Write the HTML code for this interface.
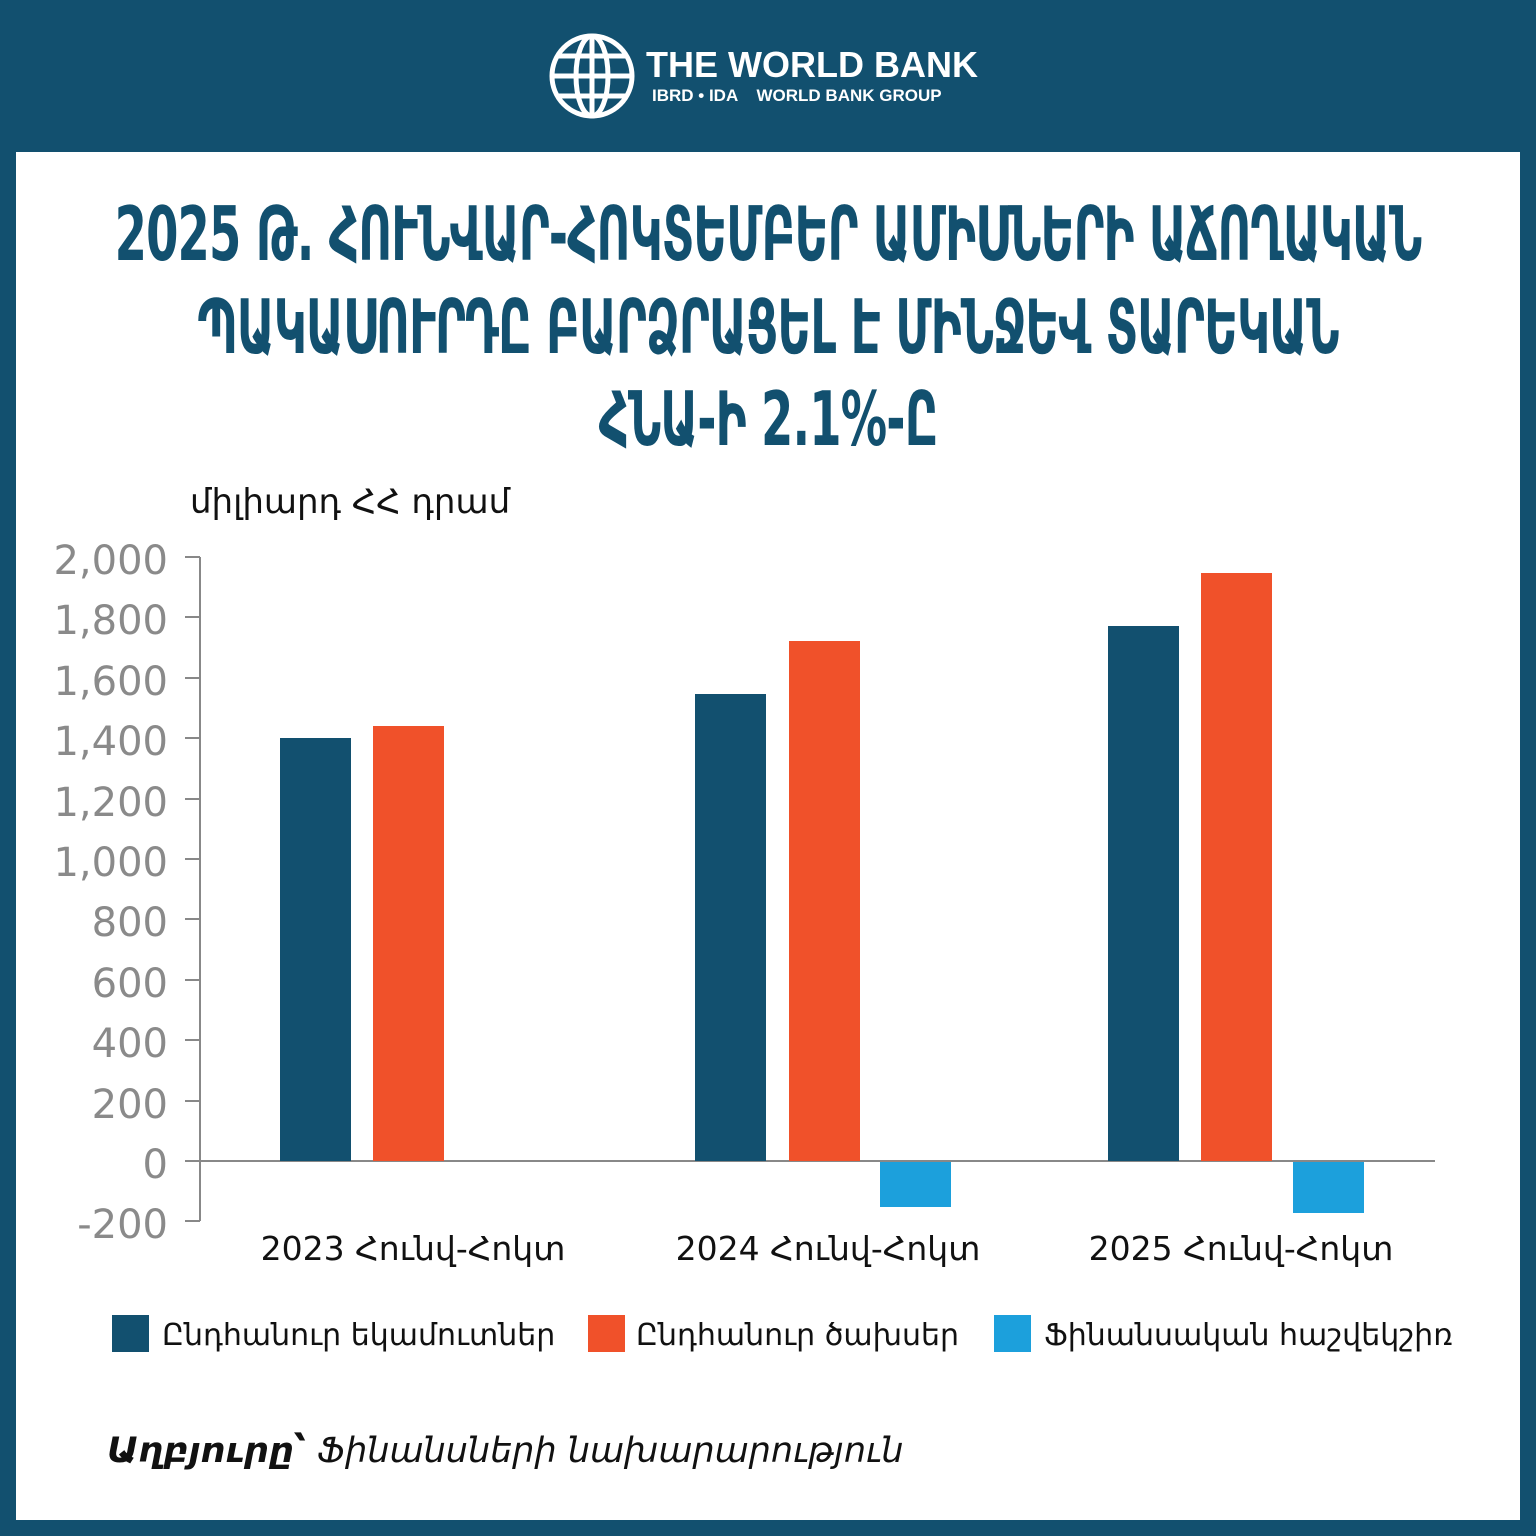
<!DOCTYPE html>
<html><head><meta charset="utf-8"><style>
body{margin:0;width:1536px;height:1536px;background:#12506f;position:relative;overflow:hidden;font-family:"DejaVu Sans","Liberation Sans",sans-serif}
.panel{position:absolute;left:16px;top:152px;width:1504px;height:1368px;background:#fff}
.t{position:absolute;left:0;width:1536px;text-align:center;color:#12506f;font-family:"DejaVu Sans Condensed","DejaVu Sans",sans-serif;font-weight:bold;font-size:60px;letter-spacing:-1px;transform:scale(0.86,1.25)}
.abs{position:absolute;white-space:nowrap}
</style></head><body>
<div class="panel"></div>
<svg class="abs" style="left:546px;top:30px" width="92" height="92" viewBox="0 0 92 92">
<g fill="none" stroke="#fff" stroke-width="5">
<circle cx="46" cy="46" r="40"/>
<ellipse cx="46" cy="46" rx="16" ry="40"/>
<line x1="6" y1="46" x2="86" y2="46"/>
<path d="M12 26 H80 M12 66 H80"/>
<line x1="46" y1="6" x2="46" y2="86"/>
</g></svg>
<div class="abs" style="left:646px;top:44px;color:#fff;font-family:'Liberation Sans',sans-serif;font-weight:bold;font-size:36px">THE WORLD BANK</div>
<div class="abs" style="left:652px;top:86px;color:#fff;font-family:'Liberation Sans',sans-serif;font-weight:bold;font-size:17px">IBRD • IDA &nbsp;&nbsp; WORLD BANK GROUP</div>
<div class="t" style="top:200px">2025 Թ. ՀՈՒՆՎԱՐ-ՀՈԿՏԵՄԲԵՐ ԱՄԻՍՆԵՐԻ ԱՃՈՂԱԿԱՆ</div>
<div class="t" style="top:293px">ՊԱԿԱՍՈՒՐԴԸ ԲԱՐՁՐԱՑԵԼ Է ՄԻՆՋԵՎ ՏԱՐԵԿԱՆ</div>
<div class="t" style="top:385px">ՀՆԱ-Ի 2.1%-Ը</div>
<div class="abs" style="left:190px;top:482px;font-size:34px;color:#111">միլիարդ ՀՀ դրամ</div>
<svg class="abs" style="left:0;top:0" width="1536" height="1536">
<g stroke="#888" stroke-width="2">
<line x1="200" y1="557" x2="200" y2="1221"/>
<line x1="200" y1="1161" x2="1435" y2="1161"/>
<path d="M185 557H200M185 617H200M185 678H200M185 738H200M185 799H200M185 859H200M185 919H200M185 980H200M185 1040H200M185 1101H200M185 1161H200M185 1221H200"/>
</g>
<g font-family="DejaVu Sans,sans-serif" font-size="40" fill="#8a8a8a" text-anchor="end">
<text x="168" y="574">2,000</text><text x="168" y="634">1,800</text><text x="168" y="695">1,600</text><text x="168" y="755">1,400</text><text x="168" y="816">1,200</text><text x="168" y="876">1,000</text><text x="168" y="936">800</text><text x="168" y="997">600</text><text x="168" y="1057">400</text><text x="168" y="1118">200</text><text x="168" y="1178">0</text><text x="168" y="1238">-200</text>
</g>
<g fill="#12506f"><rect x="280" y="738" width="71" height="423"/><rect x="695" y="694" width="71" height="467"/><rect x="1108" y="626" width="71" height="535"/></g>
<g fill="#f0512a"><rect x="373" y="726" width="71" height="435"/><rect x="789" y="641" width="71" height="520"/><rect x="1201" y="573" width="71" height="588"/></g>
<g fill="#1ca0dc"><rect x="880" y="1162" width="71" height="45"/><rect x="1293" y="1162" width="71" height="51"/></g>
<g font-family="DejaVu Sans,sans-serif" font-size="33" fill="#111" text-anchor="middle">
<text x="413" y="1260">2023 Հունվ-Հոկտ</text><text x="828" y="1260">2024 Հունվ-Հոկտ</text><text x="1241" y="1260">2025 Հունվ-Հոկտ</text>
</g>
<rect x="112" y="1315" width="37" height="37" fill="#12506f"/>
<rect x="588" y="1315" width="37" height="37" fill="#f0512a"/>
<rect x="994" y="1315" width="37" height="37" fill="#1ca0dc"/>
<g font-family="DejaVu Sans,sans-serif" font-size="30" fill="#111">
<text x="162" y="1345">Ընդհանուր եկամուտներ</text><text x="636" y="1345">Ընդհանուր ծախսեր</text><text x="1044" y="1345">Ֆինանսական հաշվեկշիռ</text>
</g>
<text x="107" y="1462" font-family="DejaVu Sans,sans-serif" font-size="35" font-style="italic" fill="#111"><tspan font-weight="bold">Աղբյուրը՝</tspan> Ֆինանսների նախարարություն</text>
</svg>
</body></html>
